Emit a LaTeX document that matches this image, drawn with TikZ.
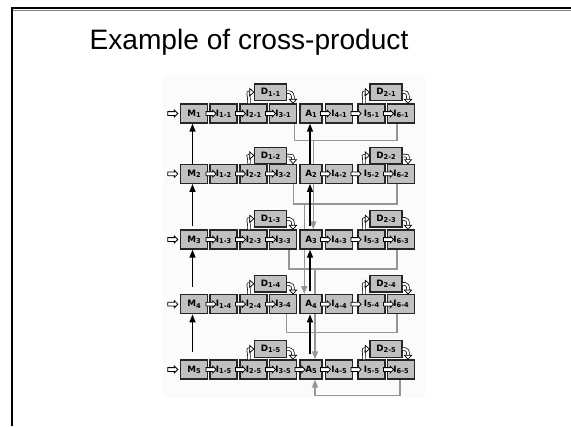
\documentclass[tikz,border=0pt]{standalone}
\usepackage{fontspec}
\setmainfont{Liberation Sans}
\newfontfamily\boxfont{DejaVu Sans}
\usetikzlibrary{arrows.meta,positioning,calc,shapes.arrows,backgrounds}
\definecolor{boxgray}{RGB}{192,192,192}
\definecolor{loopgray}{RGB}{150,150,150}
\definecolor{paper}{RGB}{251,251,251}
\newcommand\idx[1]{\raisebox{-0.7pt}{\fontsize{3.8}{4}\selectfont #1}}
\tikzset{
  stage/.style={draw=black!85, fill=boxgray, line width=0.75pt, minimum width=5.4mm,
                minimum height=3.8mm, inner sep=0pt,
                font=\boxfont\bfseries\fontsize{5}{6}\selectfont},
  astage/.style={stage, minimum width=4.4mm},
  dstage/.style={stage, minimum width=6.4mm, minimum height=3.3mm},
  flow/.style={single arrow, draw, fill=white, line width=0.45pt, inner sep=0.3mm,
               single arrow head extend=0.3mm, minimum height=2mm},
  climb/.style={-{Triangle[length=1.6mm, width=1.2mm]}, line width=0.8pt},
  loopline/.style={draw=loopgray, line width=0.8pt},
  looparrow/.style={loopline, -{Triangle[length=1.6mm, width=1.2mm]}},
  hook/.style={double=white, double distance=0.4mm, line width=0.4pt},
  hooktip/.style={fill=white, draw=black, line width=0.4pt},
}

\begin{document}
\begin{tikzpicture}[x=0.2mm, y=-0.2mm]
\useasboundingbox (0,0) rectangle (571,426);

% frame and title
\draw[line width=0.6pt, gray] (13,10.5) -- (571,10.5);
\draw[line width=1.3pt] (11.7,426) -- (11.7,8.3) -- (571,8.3);
\node[font=\fontsize{16}{19}\selectfont] (title) at (249,42) {Example of cross-product};

% the five rows
\foreach \k/\y/\dy in {1/113.5/-21.3,2/173.8/-18.3,3/239.5/-20.7,4/304.2/-20.4,5/369.5/-20.5}{
  \node[stage]  (m\k)    at (194,\y)   {M\idx{\k}};
  \node[stage]  (i1-\k)  at (223.5,\y) {I\idx{1-\k}};
  \node[stage]  (i2-\k)  at (253.5,\y) {I\idx{2-\k}};
  \node[stage]  (i3-\k)  at (283,\y)   {I\idx{3-\k}};
  \node[astage] (a\k)    at (311,\y)   {A\idx{\k}};
  \node[stage]  (i4-\k)  at (339,\y)   {I\idx{4-\k}};
  \node[stage]  (i5-\k)  at (371.5,\y) {I\idx{5-\k}};
  \node[stage]  (i6-\k)  at (401,\y)   {I\idx{6-\k}};
  \node[dstage] (d1-\k)  at (270.5,\y+\dy) {D\idx{1-\k}};
  \node[dstage] (d2-\k)  at (386,\y+\dy)   {D\idx{2-\k}};

  % input and stage-to-stage flow
  \node[flow, anchor=tip] (in\k) at ([xshift=-0.3mm]m\k.west) {};
  \node[flow, anchor=tail] at ([xshift=-0.5mm]m\k.east) {};
  \node[flow, anchor=tail] at ([xshift=-0.5mm]i1-\k.east) {};
  \node[flow, anchor=tail] at ([xshift=-0.5mm]i2-\k.east) {};
  \node[flow, anchor=tail] at ([xshift=-0.5mm]a\k.east) {};
  \node[flow, anchor=tail] at ([xshift=-0.5mm]i4-\k.east) {};
  \node[flow, anchor=tail] at ([xshift=-0.5mm]i5-\k.east) {};

  % detours through D1 and D2
  \draw[hook] ([xshift=-0.9mm]i2-\k.north) -- ++(0,-3)
    .. controls +(0,-5) and +(-3,0) .. ([xshift=-0.8mm]d1-\k.west);
  \filldraw[hooktip] ([xshift=-0.8mm,yshift=0.7mm]d1-\k.west) -- (d1-\k.west)
    -- ([xshift=-0.8mm,yshift=-0.7mm]d1-\k.west) -- cycle;
  \draw[hook] (d1-\k.east) -- ++(2,0)
    .. controls +(3,0) and +(0,-4) .. ([xshift=2mm,yshift=0.8mm]i3-\k.north);
  \filldraw[hooktip] ([xshift=1.3mm,yshift=0.8mm]i3-\k.north) -- ([xshift=2mm]i3-\k.north)
    -- ([xshift=2.7mm,yshift=0.8mm]i3-\k.north) -- cycle;

  \draw[hook] ([xshift=-1.5mm]i5-\k.north) -- ++(0,-3)
    .. controls +(0,-5) and +(-3,0) .. ([xshift=-0.8mm]d2-\k.west);
  \filldraw[hooktip] ([xshift=-0.8mm,yshift=0.7mm]d2-\k.west) -- (d2-\k.west)
    -- ([xshift=-0.8mm,yshift=-0.7mm]d2-\k.west) -- cycle;
  \draw[hook] (d2-\k.east) -- ++(2,0)
    .. controls +(3,0) and +(0,-4) .. ([xshift=1.4mm,yshift=0.8mm]i6-\k.north);
  \filldraw[hooktip] ([xshift=0.7mm,yshift=0.8mm]i6-\k.north) -- ([xshift=1.4mm]i6-\k.north)
    -- ([xshift=2.1mm,yshift=0.8mm]i6-\k.north) -- cycle;
}
\node[flow, anchor=tail] at ([xshift=-0.5mm]i3-5.east) {};

% upward links between rows
\foreach \k/\j/\gm/\ga in {1/2/0/0, 2/3/0.6/0.6, 3/4/1.4/0.6, 4/5/1.4/1}{
  \draw[climb] ([xshift=-0.3mm,yshift=\gm mm]m\j.north) -- ([xshift=-0.3mm]m\k.south);
  \draw[climb] ([xshift=-0.2mm,yshift=\ga mm]a\j.north) -- ([xshift=-0.2mm]a\k.south);
}

% gray returns from I3 and I6
\begin{scope}[on background layer]
  \fill[paper] (163,75) rectangle (425,398);
  \foreach \k/\lx/\ly in {1/2.25/17, 2/2.05/20, 3/1.2/19.3, 4/0.75/18}{
    \draw[loopline] ([xshift=\lx mm]i3-\k.south) -- ++(0,\ly) coordinate (lp\k)
      -| ([xshift=-0.8mm]i6-\k.south);
  }
  \draw[looparrow] ([xshift=0.45mm]a3.north |- lp1) -- ([xshift=0.45mm]a3.north);
  \draw[looparrow] ([xshift=-1.35mm]a4.north |- lp2) -- ([xshift=-1.35mm]a4.north);
  \draw[looparrow] ([xshift=0.8mm]a5.north |- lp3) -- ([xshift=0.8mm]a5.north);
  \draw[looparrow] ([xshift=-0.2mm]i6-5.south) -- ++(0,16) -| ([xshift=0.8mm]a5.south);
\end{scope}
\end{tikzpicture}
\end{document}
